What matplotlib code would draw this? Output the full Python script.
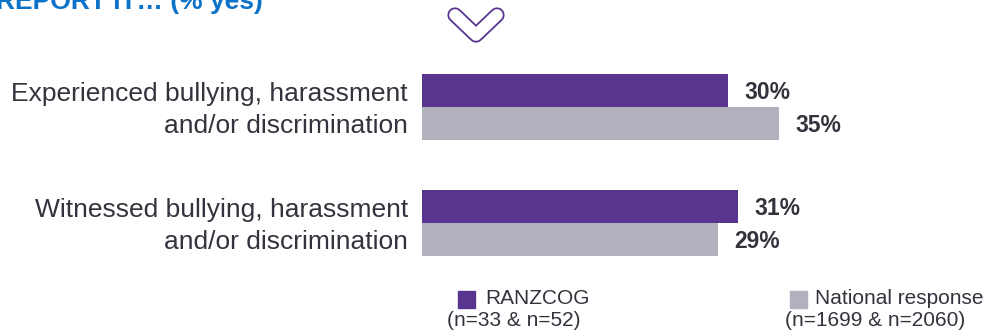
import matplotlib
matplotlib.use("Agg")
import matplotlib.pyplot as plt
import matplotlib.transforms as mtransforms
import numpy as np

plt.rcParams['font.family'] = ['Liberation Sans', 'DejaVu Sans']

categories = ["Experienced bullying, harassment\nand/or discrimination",
              "Witnessed bullying, harassment\nand/or discrimination"]
ranzcog = [30, 31]
national = [35, 29]
series_names = ["RANZCOG", "National response"]
series_n = ["(n=33 & n=52)", "(n=1699 & n=2060)"]
title = "REPORT IT\u2026 (% yes)"

purple = "#5A3590"
grey = "#B1B1BD"
text_col = "#33333D"

W, H = 987, 336
fig = plt.figure(figsize=(W / 100, H / 100), dpi=100)

def fx(px):
    return px / W

def fy(py):
    return 1 - py / H

# bar axes: x from 422px, 10.2 px per percent
ax_left, ax_right = 422, 422 + 10.2 * 50
ax_top, ax_bot = 60, 270
ax = fig.add_axes([fx(ax_left), fy(ax_bot), fx(ax_right - ax_left), (ax_bot - ax_top) / H])
ax.set_xlim(0, 50)
unit = 116.0
ax.set_ylim((ax_bot - 107) / unit, -(107 - ax_top) / unit)

pos = np.arange(len(categories))
bh = 33 / unit
ax.barh(pos - bh / 2, ranzcog, height=bh, color=purple)
ax.barh(pos + bh / 2, national, height=bh, color=grey)

for p, v in zip(pos, ranzcog):
    ax.annotate(f"{v}%", (v, p - bh / 2), xytext=(12, -1.5), textcoords="offset points",
                ha="left", va="center", fontsize=16.5, fontweight="bold", color=text_col)
for p, v in zip(pos, national):
    ax.annotate(f"{v}%", (v, p + bh / 2), xytext=(12, -1.5), textcoords="offset points",
                ha="left", va="center", fontsize=16.5, fontweight="bold", color=text_col)

ax.set_yticks(pos)
ax.set_yticklabels(categories, fontsize=19, color=text_col, ha="right",
                   linespacing=1.4, va="center")
ax.tick_params(axis="y", length=0, pad=10)
shift = mtransforms.ScaledTranslation(0, -2 / 72, fig.dpi_scale_trans)
for lbl in ax.get_yticklabels():
    lbl.set_transform(lbl.get_transform() + shift)
ax.set_xticks([])
for s in ax.spines.values():
    s.set_visible(False)

# partial heading at the very top
fig.text(fx(263), fy(9), title, ha="right", va="baseline", fontsize=19,
         fontweight="bold", color="#0A72C8")

# chevron icon drawn as an outlined stroke
cx = [fx(455), fx(476), fx(497)]
cy = [fy(15), fy(35), fy(15)]
fig.add_artist(plt.Line2D(cx, cy, color=purple, lw=11, solid_capstyle="round",
                          solid_joinstyle="round", transform=fig.transFigure))
fig.add_artist(plt.Line2D(cx, cy, color="white", lw=8.4, solid_capstyle="round",
                          solid_joinstyle="round", transform=fig.transFigure))

# legend
legend_items = [(458, 485, 447, purple), (790, 815, 785, grey)]
for (sq_x, lab_x, n_x, col), name, n in zip(legend_items, series_names, series_n):
    fig.add_artist(plt.Rectangle((fx(sq_x), fy(308)), fx(17), 17 / H, color=col,
                                 transform=fig.transFigure))
    fig.text(fx(lab_x), fy(299), name, ha="left", va="center", fontsize=15, color=text_col)
    fig.text(fx(n_x), fy(321), n, ha="left", va="center", fontsize=15, color=text_col)

fig.savefig("out.png", dpi=100, facecolor="white")
